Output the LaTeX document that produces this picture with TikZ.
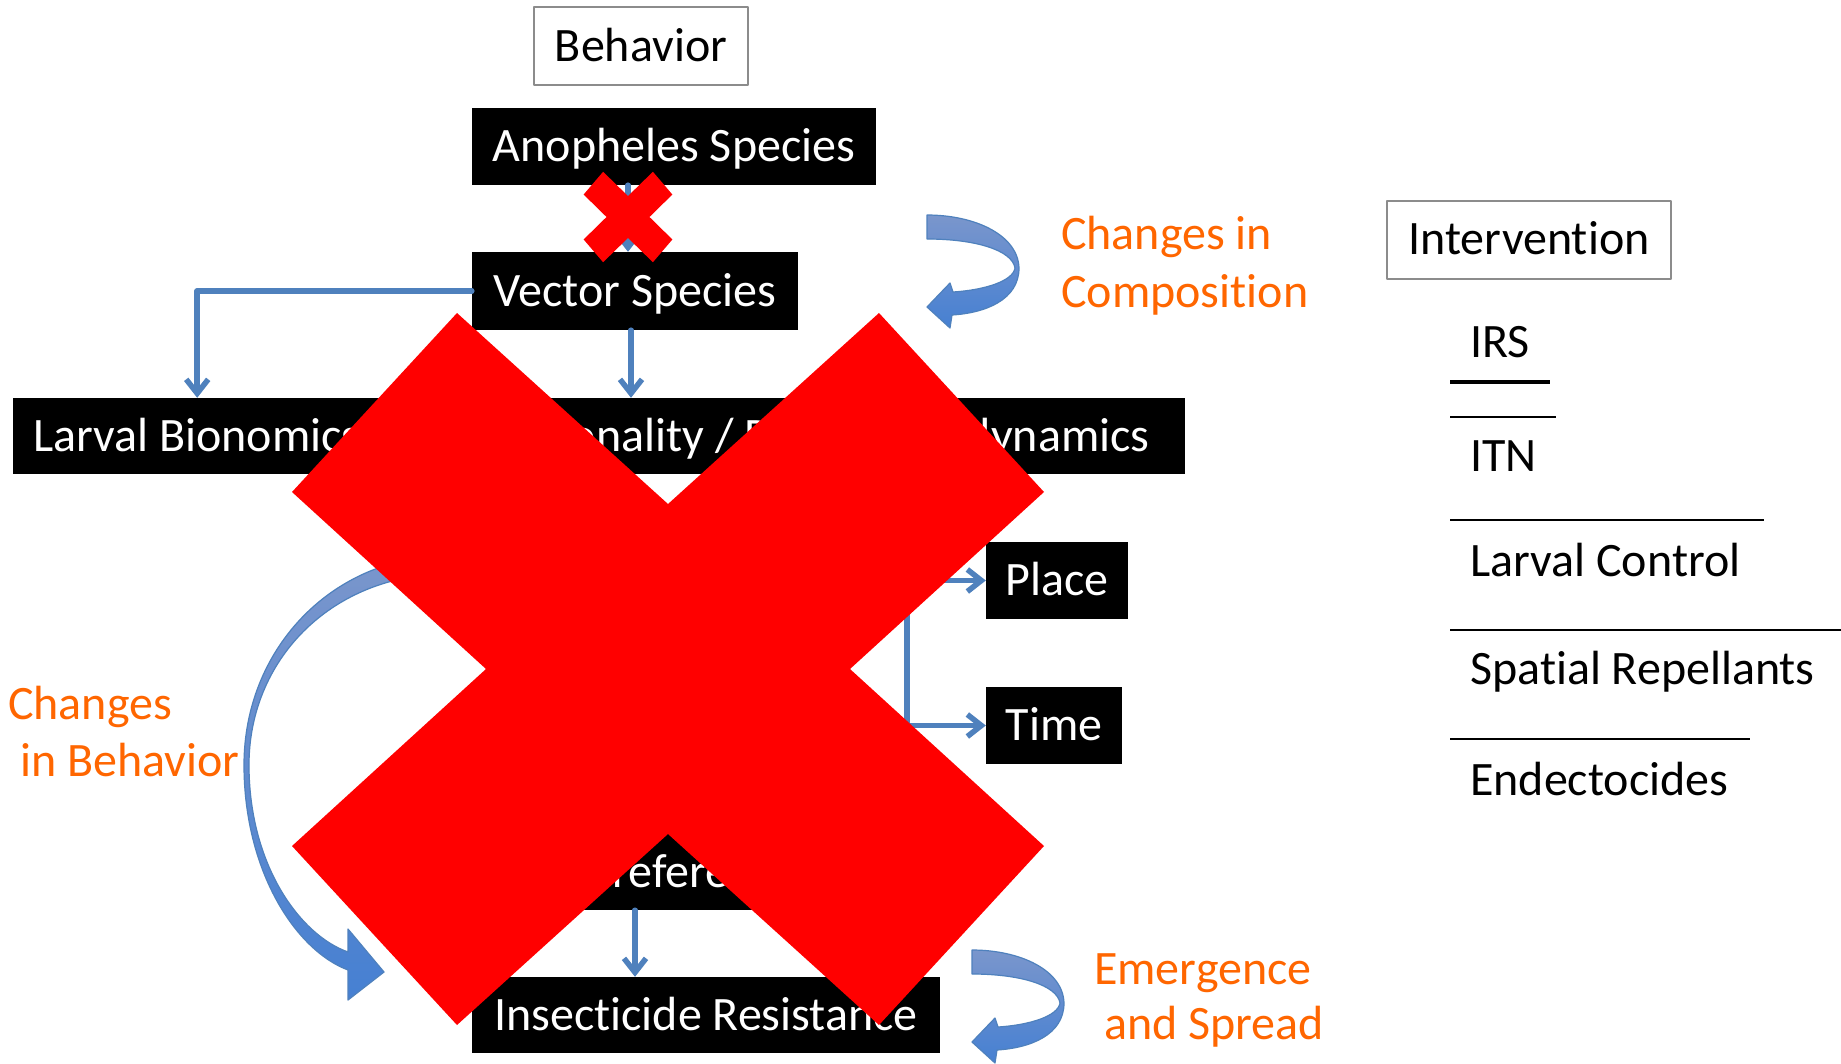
\documentclass[tikz,border=0pt]{standalone}
\usepackage{fontspec}
\setmainfont{Carlito}[Ligatures={NoCommon,NoContextual}]
\usetikzlibrary{arrows.meta}

\definecolor{linkblue}{RGB}{79,129,189}
\definecolor{notecolor}{RGB}{255,102,0}
\definecolor{crossred}{RGB}{255,0,0}
\definecolor{framegray}{RGB}{140,140,140}
\definecolor{ribbontop}{RGB}{122,150,204}
\definecolor{ribbonbot}{RGB}{70,128,210}

\tikzset{
  % 大叉（以中心为原点）
  redcross/.pic={
    \fill[crossred] (-211,-356) -- (0,-165) -- (211,-356) -- (376,-177) -- (182,0) -- (376,177)
      -- (211,356) -- (0,165) -- (-211,356) -- (-376,177) -- (-182,0) -- (-376,-177) -- cycle;
  },
  % 回旋箭头（以左上角为原点）
  twistarrow/.pic={
    \shadedraw[top color=ribbontop, bottom color=ribbonbot, draw=linkblue, line width=1.2pt]
      (0,0) .. controls (48,0) and (91,20) .. (92,53) .. controls (92,85) and (58,98) .. (25,100)
      -- (23,113) -- (0,92) -- (23,68) -- (26,77)
      .. controls (58,75) and (86,66) .. (88,53) .. controls (85,35) and (48,24) .. (0,24) -- cycle;
  }
}

\begin{document}
\begin{tikzpicture}[x=1pt, y=-1pt, line cap=round, line join=round,
  font=\fontsize{48}{57}\selectfont,
  blackbox/.style={fill=black, text=white, inner xsep=0pt, inner ysep=0pt, minimum height=77pt,
    text height=30pt, text depth=0pt},
  framebox/.style={draw=framegray, line width=2pt, fill=white, inner xsep=0pt, inner ysep=0pt,
    minimum height=78pt, text height=30pt, text depth=0pt},
  note/.style={text=notecolor, anchor=base west, inner sep=0pt},
  item/.style={anchor=base west, inner sep=0pt},
  link/.style={draw=linkblue, line width=5.5pt, -{Straight Barb[length=14pt,width=22pt]}},
  rule/.style={line cap=butt}]

  \fill[white] (0,0) rectangle (1841,1063);

  %% ════ 方框 ════
  \node[framebox, minimum width=214pt] (behav) at (641,46) {Behavior};
  \node[blackbox, minimum width=404pt] (anoph) at (674,146.5) {Anopheles Species};
  \node[blackbox, minimum width=326pt, minimum height=78pt] (vector) at (635,291) {Vector Species};
  \node[blackbox, anchor=west, text width=328pt, align=flush left, inner xsep=20pt, minimum height=76pt] (larval) at (13,436) {Larval Bionomics};
  \node[blackbox, anchor=west, text width=682pt, align=flush left, inner xsep=20pt, minimum height=76pt] (season) at (463,436) {Seasonality / Population dynamics};
  \node[blackbox, minimum width=142pt] (place) at (1057,580.5) {Place};
  \node[blackbox, minimum width=136pt] (time) at (1054,725.5) {Time};
  \node[blackbox, minimum width=343pt, minimum height=76pt] (pref) at (643,872) {Host Preference};
  \node[blackbox, minimum width=468pt, minimum height=76pt] (resist) at (706,1015) {Insecticide Resistance};

  %% ════ 连线 ════
  \coordinate (adrop) at ([xshift=-46pt]anoph.south);
  \coordinate (vdrop) at ([xshift=-4pt]vector.south);
  \coordinate (pdrop) at ([xshift=-8pt]pref.south);
  \coordinate (fork) at ([xshift=83pt]season.south);
  \draw[link] (adrop) -- (adrop |- vector.north);
  \draw[link] (vector.west) -| (larval.north);
  \draw[link] (vdrop) -- (vdrop |- season.north);
  \draw[link] (fork) |- (place.west);
  \draw[link] (fork) |- (time.west);
  \draw[link] (pdrop) -- (pdrop |- resist.north);

  %% ════ 弯箭头 ════
  \pic at (927,215) {twistarrow};
  \pic at (972,950) {twistarrow};
  \shadedraw[top color=ribbontop, bottom color=ribbonbot, draw=linkblue, line width=1.2pt]
    (440,556) .. controls (330,560) and (244,650) .. (244,765) .. controls (244,870) and (295,950) .. (348,970)
    -- (348,1000) -- (384,972) -- (348,929) -- (348,952)
    .. controls (300,935) and (249,865) .. (249,765) .. controls (249,660) and (330,578) .. (440,574) -- cycle;

  %% ════ 橙色说明 ════
  \node[note] (comp1) at (1061,249) {Changes in};
  \node[note] (comp2) at (1061,307) {Composition};
  \node[note] (chg1) at (8,719) {Changes};
  \node[note] (chg2) at (20,776) {in Behavior};
  \node[note] (emg1) at (1094,984) {Emergence};
  \node[note] (emg2) at (1104,1039) {and Spread};

  %% ════ 右侧干预列表 ════
  \node[framebox, minimum width=284pt] (interv) at (1529,239.5) {Intervention};
  \node[item] (irs) at (1470,357) {IRS};
  \node[item] (itn) at (1470,471) {ITN};
  \node[item] (larvctl) at (1470,576) {Larval Control};
  \node[item] (repel) at (1470,684) {Spatial Repellants};
  \node[item] (endecto) at (1470,795) {Endectocides};
  \draw[rule, line width=4pt] (1450,382) -- (1550,382);
  \draw[rule, line width=1.2pt] (1450,417) -- (1556,417);
  \draw[rule, line width=2pt] (1450,520) -- (1764,520);
  \draw[rule, line width=1.6pt] (1450,630) -- (1841,630);
  \draw[rule, line width=2pt] (1450,739) -- (1750,739);

  %% ════ 红叉（最上层）════
  \pic at (668,669) {redcross};
  \pic[xscale=0.118, yscale=0.127] at (628,217) {redcross};

  \pgfresetboundingbox
  \path[use as bounding box] (0,0) rectangle (1841,1063);
\end{tikzpicture}
\end{document}
